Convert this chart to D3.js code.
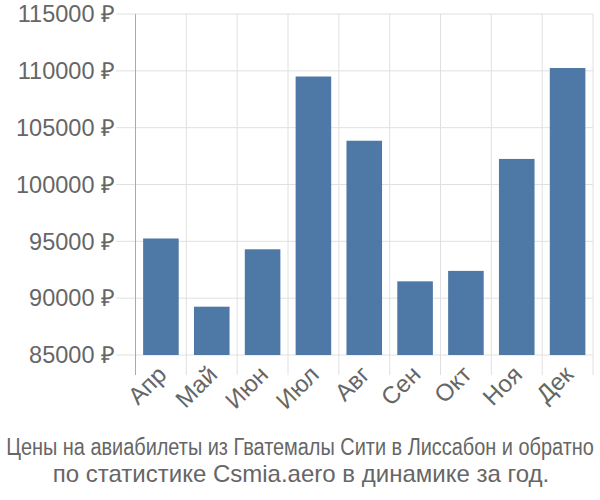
<!DOCTYPE html>
<html><head><meta charset="utf-8">
<script src="https://cdn.jsdelivr.net/npm/d3@7"></script>
<style>body{margin:0;background:#fff}svg{display:block;font-family:"Liberation Sans",Arial,sans-serif}</style>
</head><body><svg id="c" width="600" height="500"></svg>
<script>
const categories = ["Апр","Май","Июн","Июл","Авг","Сен","Окт","Ноя","Дек"];
const values = [95250, 89250, 94300, 109500, 103850, 91480, 92400, 102250, 110250];
const yTicks = [85000, 90000, 95000, 100000, 105000, 110000, 115000];
const titleLines = ["Цены на авиабилеты из Гватемалы Сити в Лиссабон и обратно","по статистике Csmia.aero в динамике за год."];

(function(){
const svg = d3.select("#c");
const pL = 135.5, pR = 593, pT = 14, pB = 355;
const x = d3.scaleBand().domain(categories).range([pL, pR]).paddingInner(0.3).paddingOuter(0.15);
const y = d3.scaleLinear().domain([85000, 115000]).range([pB, pT]);

svg.append("g").selectAll("line").data(yTicks).join("line")
  .attr("x1", 116).attr("x2", pR).attr("y1", d=>y(d)).attr("y2", d=>y(d))
  .attr("stroke", "#e0e0e0").attr("stroke-width", 1);
const step = (pR-pL)/categories.length;
const vx = d3.range(1, categories.length+1).map(i=>pL+i*step);
svg.append("g").selectAll("line").data(vx).join("line")
  .attr("x1", d=>d).attr("x2", d=>d).attr("y1", pT).attr("y2", 375)
  .attr("stroke", "#e0e0e0").attr("stroke-width", 1);

svg.append("g").selectAll("rect").data(values).join("rect")
  .attr("x", (d,i)=>x(categories[i])).attr("width", x.bandwidth())
  .attr("y", d=>y(d)).attr("height", d=>pB - y(d))
  .attr("fill", "#4e79a7");

svg.append("line").attr("x1", pL).attr("x2", pL).attr("y1", pT).attr("y2", 375)
  .attr("stroke", "#aaaaaa").attr("stroke-width", 1);

svg.append("g").selectAll("text").data(yTicks).join("text")
  .attr("x", 115).attr("y", d=>y(d)).attr("dy", "0.35em")
  .attr("text-anchor", "end").attr("font-size", 23.5).attr("fill", "#666")
  .text(d=>d + " ₽");

svg.append("g").selectAll("text").data(categories).join("text")
  .attr("transform", d=>`translate(${x(d)+x.bandwidth()/2+7},${376}) rotate(-45)`)
  .attr("text-anchor", "end").attr("font-size", 24).attr("fill", "#666")
  .text(d=>d);

const t1 = svg.append("text").attr("x", 0).attr("y", 0).attr("text-anchor", "middle")
  .attr("font-size", 23).attr("fill", "#666").text(titleLines[0]);
const w = t1.node().getComputedTextLength();
const s = Math.min(1, 588 / w);
t1.attr("transform", `translate(300,455) scale(${s},1)`);
svg.append("text").attr("x", 301).attr("y", 482).attr("text-anchor", "middle")
  .attr("font-size", 24).attr("fill", "#666").text(titleLines[1]);
})();
</script></body></html>
